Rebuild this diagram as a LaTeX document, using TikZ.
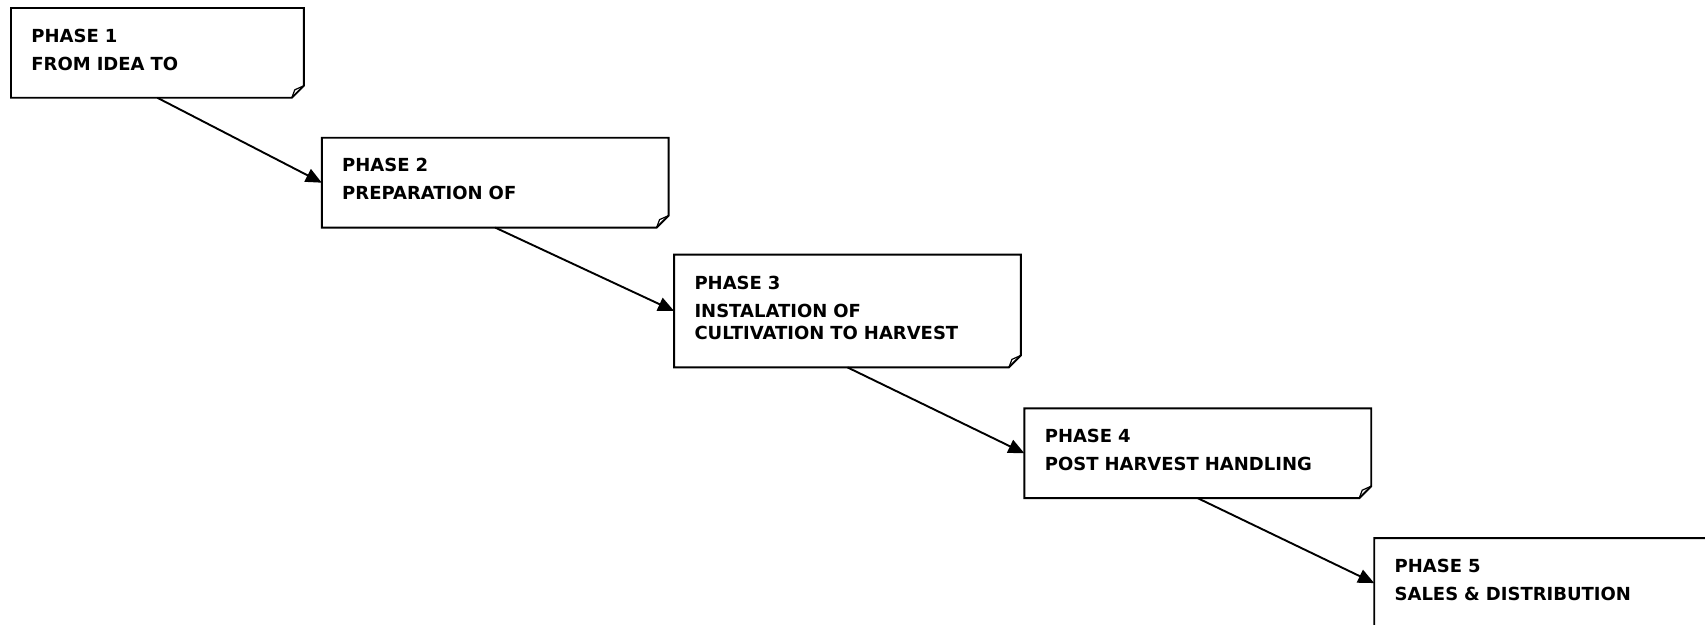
\documentclass[tikz,border=0pt]{standalone}
\usepackage{fontspec}
\setmainfont{DejaVu Sans}
\usepackage{tikz}
\usetikzlibrary{arrows.meta,positioning}
\tikzset{
  phase/.style={draw=none,rectangle,align=left,inner xsep=10pt,inner ysep=0pt,
    minimum height=44.5pt,font=\bfseries\fontsize{9}{11}\selectfont,
    execute at end node={\rule[-3.4pt]{0pt}{0pt}}},
  phasewide/.style={phase,text width=153pt},
  outline/.style={line width=0.95pt,line join=miter},
  flap/.style={line width=0.6pt},
  flow/.style={
    ->,>={Triangle[length=8pt,width=7pt]},line width=0.95pt
  }
}

\begin{document}
\begin{tikzpicture}
      \useasboundingbox (0,0) rectangle (852.5pt,-312.5pt);

      \node (p1) [phase,text width=126pt,anchor=north west] at (5.5pt,-4pt)
        {PHASE 1\\[3pt]FROM IDEA TO};
      \node (p2) [phasewide,below right=20pt and 9pt of p1.south east]
        {PHASE 2\\[3pt]PREPARATION OF};
      \node (p3) [phasewide,minimum height=56pt,below right=13.5pt and 2.75pt of p2.south east]
        {PHASE 3\\[3pt]INSTALATION OF\\CULTIVATION TO HARVEST};
      \node (p4) [phasewide,below right=20.5pt and 1.75pt of p3.south east]
        {PHASE 4\\[3pt]POST HARVEST HANDLING};
      \node (p5) [phasewide,below right=20pt and 1.5pt of p4.south east]
        {PHASE 5\\[3pt]SALES \& DISTRIBUTION};

      % boxes with the folded corner
      \foreach \n in {p1,p2,p3,p4,p5}{
        \draw[outline] (\n.north west) -- (\n.north east) -- ([yshift=6pt]\n.south east)
          -- ([xshift=-6pt]\n.south east) -- (\n.south west) -- cycle;
        \draw[flap] ([xshift=-6pt]\n.south east) -- ([shift={(-4.5pt,4pt)}]\n.south east)
          -- ([yshift=6pt]\n.south east);
      }

      \path[flow]
      (p1.south) edge (p2.west)
      (p2.south) edge (p3.west)
      (p3.south) edge (p4.west)
      (p4.south) edge (p5.west)
      ;
    \end{tikzpicture}
\end{document}
